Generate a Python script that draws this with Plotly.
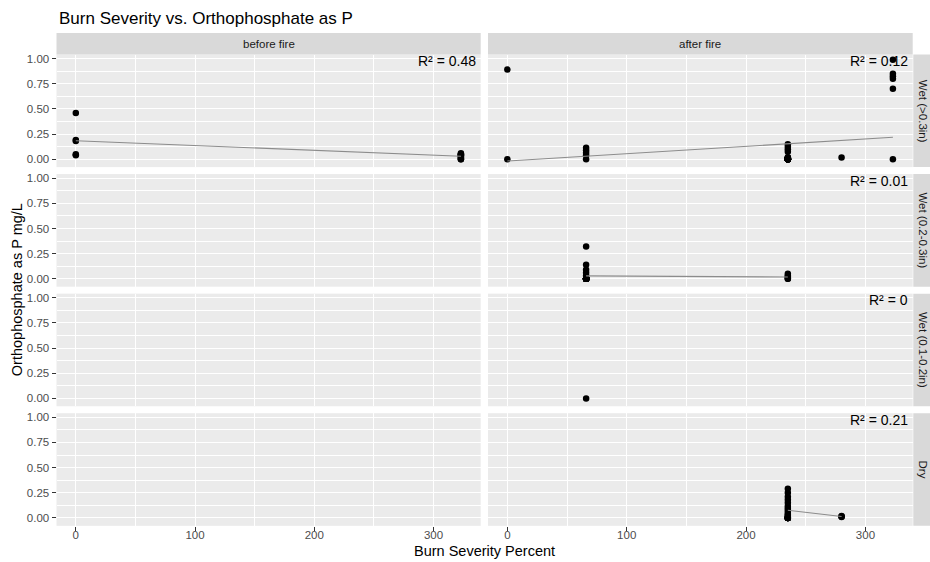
import numpy as np
import plotly.graph_objects as go

W, H = 930, 562
FONT = "Liberation Sans, Arial, sans-serif"

periods = ["before fire", "after fire"]
conditions = ["Wet (>0.3in)", "Wet (0.2-0.3in)", "Wet (0.1-0.2in)", "Dry"]

# R² of each linear fit, as printed in the panels (row, column)
r2_text = {
    (0, 0): "R² = 0.48",
    (0, 1): "R² = 0.12",
    (1, 1): "R² = 0.01",
    (2, 1): "R² = 0",
    (3, 1): "R² = 0.21",
}

# ---- Wet (>0.3in) ----
wet_hi_before_sev = [0, 0, 0, 0, 0,
                     323, 323, 323, 323, 323, 323, 323, 323, 323, 323]
wet_hi_before_p = [0.46, 0.19, 0.18, 0.05, 0.04,
                   0.06, 0.05, 0.05, 0.04, 0.04, 0.03, 0.02, 0.01, 0.0, 0.0]

wet_hi_after_sev = [0, 0,
                    66, 66, 66, 66, 66,
                    235, 235, 235, 235, 235, 235,
                    235, 235, 235, 235, 235, 235, 235, 235, 235, 235, 235,
                    235, 235, 235, 235, 235, 235, 235, 235, 235, 235, 235,
                    280,
                    323, 323, 323, 323, 323, 323]
wet_hi_after_p = [0.89, 0.0,
                  0.115, 0.09, 0.065, 0.04, 0.0,
                  0.15, 0.125, 0.10, 0.075, 0.01, 0.0,
                  0.02, 0.015, 0.01, 0.01, 0.01, 0.005, 0.005, 0.005, 0.005, 0.0, 0.0,
                  0.0, 0.0, 0.0, 0.0, 0.0, 0.0, 0.0, 0.0, 0.0, 0.0, 0.0,
                  0.017,
                  0.987, 0.85, 0.825, 0.80, 0.70, 0.0]

# ---- Wet (0.2-0.3in) ----
wet_mid_before_sev = []
wet_mid_before_p = []
wet_mid_after_sev = [66, 66, 66, 66, 66, 66, 66, 66, 66, 66, 66,
                     66, 66, 66, 66, 66, 66, 66, 66, 66, 66, 66,
                     235, 235, 235, 235, 235, 235]
wet_mid_after_p = [0.32, 0.14, 0.09, 0.06, 0.03, 0.0, 0.0, 0.0, 0.0, 0.0, 0.0,
                   0.0, 0.0, 0.0, 0.0, 0.0, 0.0, 0.0, 0.0, 0.0, 0.0, 0.0,
                   0.05, 0.03, 0.02, 0.01, 0.0, 0.0]

# ---- Wet (0.1-0.2in) ----
wet_lo_before_sev = []
wet_lo_before_p = []
wet_lo_after_sev = [66]
wet_lo_after_p = [0.0]

# ---- Dry ----
dry_before_sev = []
dry_before_p = []
dry_after_sev = [235, 235, 235, 235, 235, 235, 235, 235, 235, 235,
                 235, 235, 235, 235, 235, 235, 235, 235, 235, 235,
                 280, 280, 280]
dry_after_p = [0.29, 0.25, 0.21, 0.18, 0.15, 0.12, 0.10, 0.08, 0.06, 0.04,
               0.03, 0.02, 0.01, 0.0, 0.0, 0.0, 0.0, 0.0, 0.0, 0.0,
               0.02, 0.015, 0.01]

panels = [
    [(wet_hi_before_sev, wet_hi_before_p), (wet_hi_after_sev, wet_hi_after_p)],
    [(wet_mid_before_sev, wet_mid_before_p), (wet_mid_after_sev, wet_mid_after_p)],
    [(wet_lo_before_sev, wet_lo_before_p), (wet_lo_after_sev, wet_lo_after_p)],
    [(dry_before_sev, dry_before_p), (dry_after_sev, dry_after_p)],
]

x_ticks = [0, 100, 200, 300]
y_ticks = [0, 0.25, 0.5, 0.75, 1.0]
x_range = [-16.2, 339.6]
y_range = [-0.078, 1.04]

# panel geometry in pixels
col_x = [(56.5, 480.7), (488.0, 912.7)]
row_y = [(52.7, 165.7), (172.7, 285.7), (292.7, 405.7), (412.7, 525.7)]
strip_top = (31.0, 52.7)
strip_right = (913.3, 934.0)


def px(x):
    return x / W


def py(y):
    return 1 - y / H


fig = go.Figure()
layout = dict(
    width=W, height=H,
    margin=dict(l=0, r=0, t=0, b=0),
    paper_bgcolor="white",
    plot_bgcolor="#EBEBEB",
    showlegend=False,
    font=dict(family=FONT, color="#4D4D4D", size=11.5),
)
shapes = []
annotations = []

for r in range(4):
    for c in range(2):
        k = r * 2 + c + 1
        xa = "x" if k == 1 else f"x{k}"
        ya = "y" if k == 1 else f"y{k}"
        bottom = r == 3
        left = c == 0
        layout[f"xaxis{k}"] = dict(
            domain=[px(col_x[c][0]), px(col_x[c][1])],
            anchor=ya, range=x_range,
            tickmode="array", tickvals=x_ticks,
            showticklabels=bottom,
            ticks="outside" if bottom else "",
            ticklen=4, tickwidth=1, tickcolor="#333333",
            ticklabelstandoff=-6,
            tickfont=dict(family=FONT, size=11.5, color="#4D4D4D"),
            showgrid=True, gridcolor="white", gridwidth=1.1,
            minor=dict(tick0=0, dtick=50, showgrid=True,
                       gridcolor="white", gridwidth=0.55),
            zeroline=False, showline=False, fixedrange=True,
        )
        layout[f"yaxis{k}"] = dict(
            domain=[py(row_y[r][1]), py(row_y[r][0])],
            anchor=xa, range=y_range,
            tickmode="array", tickvals=y_ticks,
            ticktext=[f"{v:.2f}" for v in y_ticks],
            showticklabels=left,
            ticks="outside" if left else "",
            ticklen=4, tickwidth=1, tickcolor="#333333",
            tickfont=dict(family=FONT, size=11.5, color="#4D4D4D"),
            showgrid=True, gridcolor="white", gridwidth=1.1,
            minor=dict(tick0=0, dtick=0.125, showgrid=True,
                       gridcolor="white", gridwidth=0.55),
            zeroline=False, showline=False, fixedrange=True,
        )

        sev, phos = panels[r][c]
        # every facet keeps its panel, even when it holds no samples
        fig.add_trace(go.Scatter(
            x=sev if len(sev) else [None], y=phos if len(phos) else [None],
            mode="markers", xaxis=xa, yaxis=ya,
            marker=dict(color="black", size=6.5, line=dict(width=0)),
            hoverinfo="skip",
        ))
        if len(set(sev)) > 1:
            slope, intercept = np.polyfit(np.array(sev, float), np.array(phos, float), 1)
            fx = np.array([min(sev), max(sev)], float)
            fig.add_trace(go.Scatter(
                x=fx, y=intercept + slope * fx, mode="lines", xaxis=xa, yaxis=ya,
                line=dict(color="#8C8C8C", width=1.1), hoverinfo="skip",
            ))

        if (r, c) in r2_text:
            annotations.append(dict(
                x=px(col_x[c][1] - 2.5), y=py(row_y[r][0] + 6.5),
                xref="paper", yref="paper", xanchor="right", yanchor="middle",
                text=r2_text[(r, c)], showarrow=False,
                font=dict(family=FONT, size=14, color="black"),
            ))

# column strips
for c, label in enumerate(periods):
    shapes.append(dict(type="rect", xref="paper", yref="paper",
                       x0=px(col_x[c][0]), x1=px(col_x[c][1]),
                       y0=py(strip_top[1]), y1=py(strip_top[0]),
                       fillcolor="#D9D9D9", line=dict(width=0), layer="below"))
    annotations.append(dict(
        x=px((col_x[c][0] + col_x[c][1]) / 2), y=py(sum(strip_top) / 2),
        xref="paper", yref="paper", xanchor="center", yanchor="middle",
        text=label, showarrow=False,
        font=dict(family=FONT, size=11.5, color="#1A1A1A"),
    ))

# row strips
for r, label in enumerate(conditions):
    shapes.append(dict(type="rect", xref="paper", yref="paper",
                       x0=px(strip_right[0]), x1=px(strip_right[1]),
                       y0=py(row_y[r][1]), y1=py(row_y[r][0]),
                       fillcolor="#D9D9D9", line=dict(width=0), layer="below"))
    annotations.append(dict(
        x=px(923.0), y=py(sum(row_y[r]) / 2),
        xref="paper", yref="paper", xanchor="center", yanchor="middle",
        text=label, textangle=90, showarrow=False,
        font=dict(family=FONT, size=11.5, color="#1A1A1A"),
    ))

# titles
annotations.append(dict(
    x=px(56.5), y=py(16.5), xref="paper", yref="paper",
    xanchor="left", yanchor="middle", showarrow=False,
    text="Burn Severity vs. Orthophosphate as P",
    font=dict(family=FONT, size=17, color="black"),
))
annotations.append(dict(
    x=px((col_x[0][0] + col_x[1][1]) / 2), y=py(550.5), xref="paper", yref="paper",
    xanchor="center", yanchor="middle", showarrow=False,
    text="Burn Severity Percent",
    font=dict(family=FONT, size=14.5, color="black"),
))
annotations.append(dict(
    x=px(17), y=py((row_y[0][0] + row_y[3][1]) / 2), xref="paper", yref="paper",
    xanchor="center", yanchor="middle", showarrow=False, textangle=-90,
    text="Orthophosphate as P mg/L",
    font=dict(family=FONT, size=14.5, color="black"),
))

layout["shapes"] = shapes
layout["annotations"] = annotations
fig.update_layout(**layout)
fig.write_html("out.html")
